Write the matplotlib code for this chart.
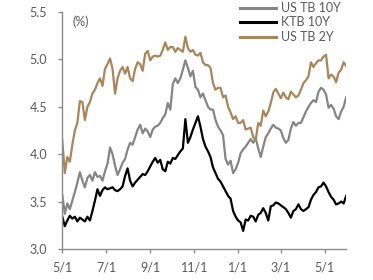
import matplotlib
matplotlib.use("Agg")
import matplotlib.pyplot as plt
import matplotlib.dates as mdates
import pandas as pd

# chart data (about every 3.5 days, 2023-05-01 .. 2024-05-31)
us_tb_2y = [
    4.15, 3.80, 3.97, 3.92, 4.10, 4.25, 4.33, 4.56, 4.55, 4.36,
    4.50, 4.55, 4.64, 4.68, 4.75, 4.80, 4.72, 4.90, 4.95, 5.01,
    4.90, 4.64, 4.80, 4.88, 4.92, 4.85, 4.92, 4.80, 4.77, 4.90,
    4.97, 4.95, 4.88, 5.06, 5.09, 4.99, 5.03, 5.04, 5.03, 5.04,
    5.10, 5.18, 5.10, 5.13, 5.13, 5.08, 5.12, 5.10, 5.08, 5.24,
    5.12, 5.08, 5.10, 5.05, 5.04, 5.07, 4.97, 4.94, 4.94, 4.91,
    4.75, 4.68, 4.70, 4.70, 4.60, 4.62, 4.50, 4.44, 4.37, 4.40,
    4.33, 4.33, 4.36, 4.26, 4.27, 4.28, 4.18, 4.15, 4.33, 4.30,
    4.46, 4.40, 4.45, 4.54, 4.65, 4.69, 4.64, 4.59, 4.65, 4.60,
    4.58, 4.66, 4.63, 4.60, 4.62, 4.68, 4.75, 4.78, 4.82, 4.97,
    4.92, 4.96, 4.99, 4.99, 5.03, 5.05, 4.80, 4.84, 4.82, 4.76,
    4.86, 4.89, 4.97, 4.93,
]
us_tb_10y = [
    3.57, 3.37, 3.48, 3.42, 3.51, 3.60, 3.70, 3.81, 3.72, 3.65,
    3.75, 3.78, 3.72, 3.81, 3.76, 3.77, 3.72, 3.82, 3.90, 4.07,
    4.00, 3.88, 3.78, 3.84, 3.91, 3.95, 4.05, 4.12, 4.10, 4.18,
    4.26, 4.31, 4.22, 4.27, 4.24, 4.18, 4.26, 4.29, 4.30, 4.33,
    4.38, 4.42, 4.54, 4.47, 4.74, 4.80, 4.75, 4.80, 4.89, 4.99,
    4.91, 4.82, 4.88, 4.71, 4.68, 4.60, 4.64, 4.57, 4.50, 4.47,
    4.47, 4.36, 4.29, 4.25, 4.20, 3.95, 3.89, 3.93, 3.80, 3.84,
    3.91, 4.01, 4.05, 4.08, 4.12, 4.16, 4.12, 4.17, 4.06, 3.97,
    4.08, 4.18, 4.22, 4.27, 4.31, 4.28, 4.27, 4.25, 4.17, 4.12,
    4.15, 4.27, 4.34, 4.30, 4.33, 4.33, 4.39, 4.45, 4.50, 4.54,
    4.57, 4.55, 4.66, 4.70, 4.68, 4.63, 4.49, 4.52, 4.48, 4.40,
    4.37, 4.45, 4.50, 4.60,
]
ktb_10y = [
    3.34, 3.24, 3.30, 3.35, 3.32, 3.34, 3.29, 3.33, 3.31, 3.29,
    3.34, 3.30, 3.40, 3.51, 3.63, 3.56, 3.62, 3.65, 3.63, 3.64,
    3.65, 3.62, 3.61, 3.63, 3.66, 3.77, 3.85, 3.72, 3.66, 3.70,
    3.73, 3.76, 3.79, 3.78, 3.82, 3.87, 3.92, 3.96, 3.91, 3.94,
    3.84, 3.82, 3.92, 3.90, 3.96, 3.95, 3.99, 4.03, 4.06, 4.37,
    4.12, 4.18, 4.26, 4.33, 4.40, 4.29, 4.16, 4.08, 4.03, 3.97,
    3.86, 3.80, 3.74, 3.71, 3.66, 3.61, 3.56, 3.53, 3.40, 3.34,
    3.30, 3.28, 3.19, 3.31, 3.30, 3.35, 3.34, 3.29, 3.36, 3.38,
    3.43, 3.38, 3.30, 3.45, 3.46, 3.49, 3.48, 3.46, 3.44, 3.42,
    3.38, 3.33, 3.40, 3.42, 3.47, 3.42, 3.40, 3.42, 3.44, 3.52,
    3.57, 3.60, 3.65, 3.66, 3.70, 3.66, 3.60, 3.55, 3.52, 3.47,
    3.48, 3.50, 3.48, 3.56,
]
dates = pd.date_range("2023-05-01", "2024-05-31", periods=len(us_tb_2y))

labels = ["US TB 10Y", "KTB 10Y", "US TB 2Y"]
colors = ["#858585", "#000000", "#A8865A"]

plt.rcParams["font.family"] = ["Lato", "DejaVu Sans"]

fig = plt.figure(figsize=(3.73, 2.8), dpi=100)
ax = fig.add_axes([0.167, 0.111, 0.761, 0.846])

for series, lab, col in zip([us_tb_10y, ktb_10y, us_tb_2y], labels, colors):
    ax.plot(dates, series, color=col, lw=1.6, label=lab)

ax.set_ylim(3.0, 5.5)
ax.set_yticks([3.0, 3.5, 4.0, 4.5, 5.0, 5.5])
ax.yaxis.set_major_formatter(matplotlib.ticker.FormatStrFormatter("%.1f"))
ax.set_xlim(pd.Timestamp("2023-05-01"), pd.Timestamp("2024-05-31"))
xt = pd.to_datetime(["2023-05-01", "2023-07-01", "2023-09-01", "2023-11-01",
                     "2024-01-01", "2024-03-01", "2024-05-01"])
ax.set_xticks(xt)
ax.xaxis.set_major_formatter(mdates.DateFormatter("%-m/%-d"))

for s in ["top", "right"]:
    ax.spines[s].set_visible(False)
for s in ["left", "bottom"]:
    ax.spines[s].set_color("#8c8c8c")
    ax.spines[s].set_linewidth(1.0)
ax.tick_params(axis="both", colors="#8c8c8c", labelcolor="#5a5a5a",
               labelsize=9, length=3, width=1.0)
ax.tick_params(axis="y", pad=8)
ax.tick_params(axis="x", pad=6)

ax.text(0.035, 0.985, "(%)", transform=ax.transAxes, va="top", ha="left",
        fontsize=9, color="#5a5a5a")

leg = ax.legend(loc="upper left", bbox_to_anchor=(240 / 373, 1 - 2 / 280),
                bbox_transform=fig.transFigure, frameon=False, fontsize=9,
                handlelength=2.9, handletextpad=0.4, labelspacing=0.2,
                borderpad=0, borderaxespad=0)
for t in leg.get_texts():
    t.set_color("#5a5a5a")
for h in leg.get_lines():
    h.set_linewidth(2.2)

fig.savefig("out.png", dpi=100)
